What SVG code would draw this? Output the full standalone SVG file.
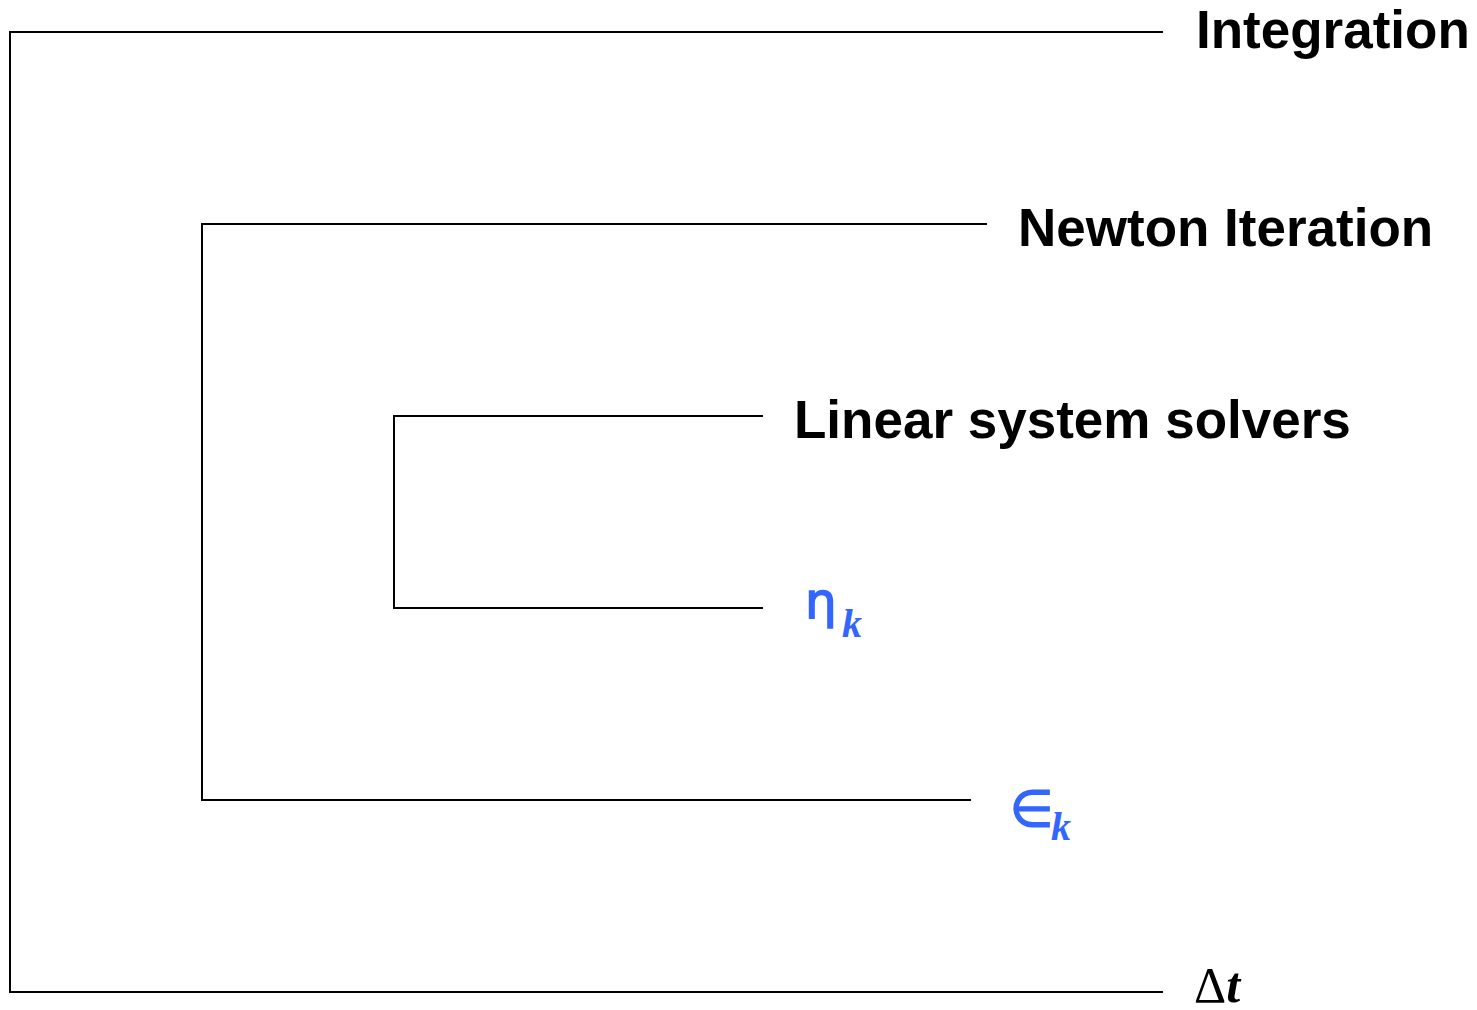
<svg xmlns="http://www.w3.org/2000/svg" width="1477" height="1010" viewBox="0 0 1477 1010">
<style>
.ln{fill:none;stroke:#000;stroke-width:2}
.lbl{font-family:"Liberation Sans",Arial,sans-serif;font-weight:bold;font-size:53px;fill:#000}
.sym{font-family:"DejaVu Sans","Liberation Serif",serif;font-size:50px;fill:#3366FF;stroke:#3366FF;stroke-width:1.5}
.sub{font-family:"Liberation Serif",serif;font-style:italic;font-weight:bold;font-size:40px;fill:#3366FF}
</style>
<rect width="1477" height="1010" fill="#fff"/>
<g id="connectors">
<polyline class="ln" points="1163,32 10,32 10,992 1163,992"/>
<polyline class="ln" points="987,224 202,224 202,800 971,800"/>
<polyline class="ln" points="763,416 394,416 394,608 763,608"/>
</g>
<g id="integration"><text class="lbl" x="1196" y="48">Integration</text></g>
<g id="newton"><text class="lbl" x="1018" y="246">Newton Iteration</text></g>
<g id="linear"><text class="lbl" x="794" y="438">Linear system solvers</text></g>
<g id="eta"><text class="sym" x="805" y="618">η</text><text class="sub" x="842" y="637">k</text></g>
<g id="eps"><text class="sym" x="1010" y="826">∈</text><text class="sub" x="1051" y="840">k</text></g>
<g id="dt"><text font-family="Liberation Serif,serif" font-size="50" x="1194" y="1002">Δ<tspan font-style="italic" font-weight="bold">t</tspan></text></g>
</svg>
